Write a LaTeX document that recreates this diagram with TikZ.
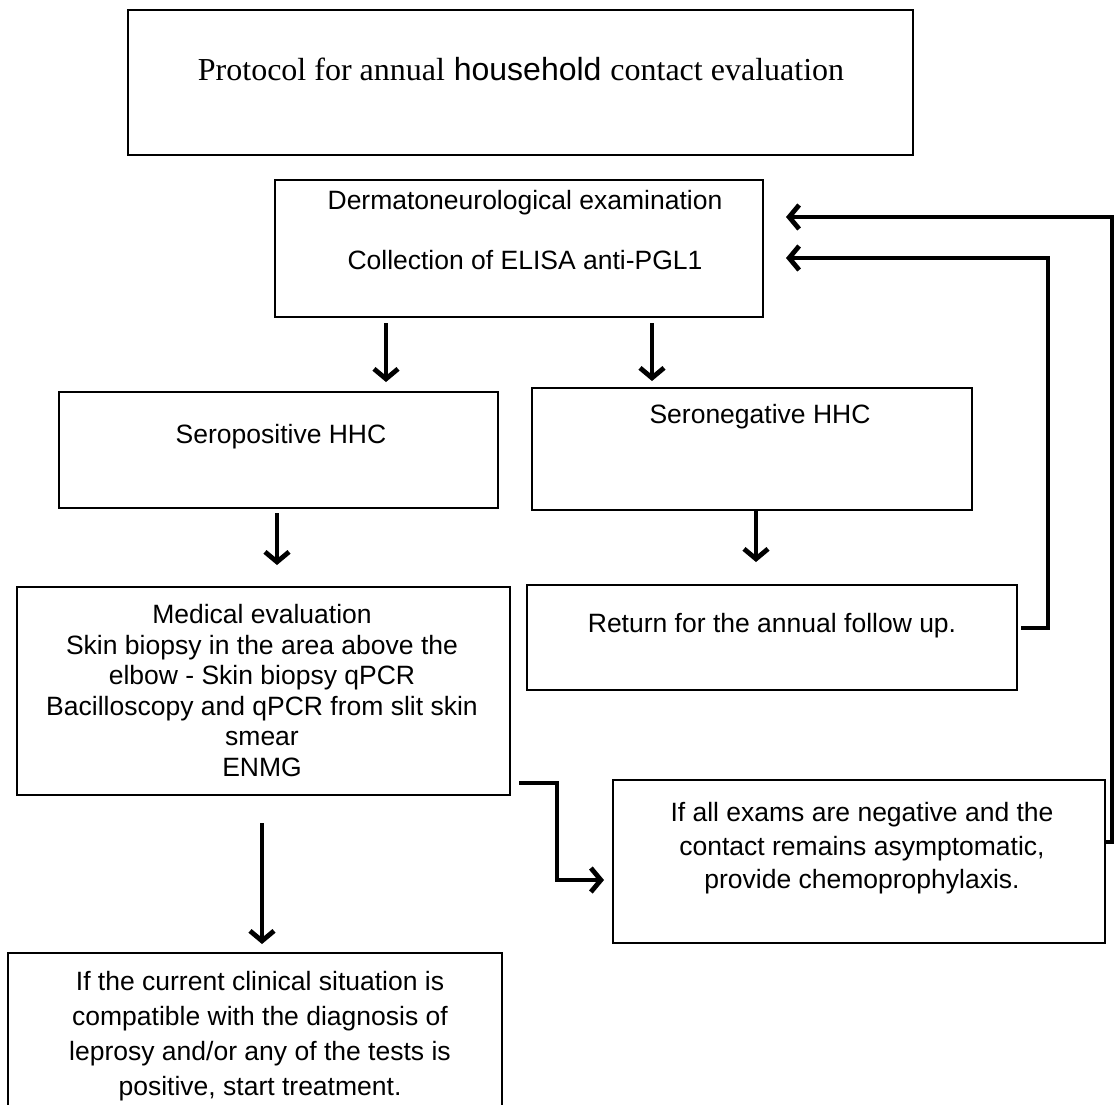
\documentclass[tikz,border=0pt]{standalone}
\usepackage{fontspec}
\setmainfont{Liberation Sans}
\newfontfamily\serifx{Liberation Serif}
\usetikzlibrary{arrows.meta}
\begin{document}
\begin{tikzpicture}[x=0.5pt,y=-0.5pt,
  box/.style={draw=black,line width=1pt,inner sep=0pt,fill=white},
  txt/.style={inner sep=0pt,font=\fontsize{13.25}{15.25}\selectfont,align=center},
  arr/.style={draw=black,line width=2.4pt,-{Straight Barb[length=5pt,width=12pt]}}
]
\useasboundingbox[fill=white] (0,0) rectangle (1117,1104);

% boxes
\node[box,line width=1.4pt,minimum width=392.5pt,minimum height=72.5pt] (title) at (520.5,82.5) {};
\node[box,minimum width=244pt,minimum height=68.5pt] (derm) at (519,248.5) {};
\node[box,minimum width=219.5pt,minimum height=58pt] (spos) at (278.5,450) {};
\node[box,minimum width=220pt,minimum height=61pt] (sneg) at (752,449) {};
\node[box,minimum width=246.5pt,minimum height=104pt] (med) at (263.5,691) {};
\node[box,minimum width=245pt,minimum height=52.5pt] (ret) at (772,637.5) {};
\node[box,minimum width=246pt,minimum height=81.5pt] (chemo) at (859,861.5) {};
\node[box,minimum width=247pt,minimum height=78.5pt] (final) at (255,1031.5) {};

% texts
\node[inner sep=0pt,anchor=base,font=\fontsize{16}{18}\selectfont] (ttitle) at (521,80)
  {{\serifx Protocol for annual} household {\serifx contact evaluation}};
\node[txt,anchor=north,font=\fontsize{13.25}{30}\selectfont] (tderm) at (525,190)
  {Dermatoneurological examination\\Collection of ELISA anti-PGL1};
\node[txt,anchor=base] (tspos) at (281,443) {Seropositive HHC};
\node[txt,anchor=base] (tsneg) at (760,423) {Seronegative HHC};
\node[txt,anchor=north] (tmed) at (262,604)
  {Medical evaluation\\Skin biopsy in the area above the\\elbow - Skin biopsy qPCR\\Bacilloscopy and qPCR from slit skin\\smear\\ENMG};
\node[txt,anchor=north] (tret) at (772,613) {Return for the annual follow up.};
\node[txt,anchor=north,font=\fontsize{13.25}{16.75}\selectfont] (tchemo) at (862,802)
  {If all exams are negative and the\\contact remains asymptomatic,\\provide chemoprophylaxis.};
\node[txt,anchor=north,font=\fontsize{13.25}{17.5}\selectfont] (tfinal) at (260,971)
  {If the current clinical situation is\\compatible with the diagnosis of\\leprosy and/or any of the tests is\\positive, start treatment.};

% connectors
\draw[arr,shorten <=2.5pt,shorten >=4.5pt] (386,0 |- derm.south) -- (386,0 |- spos.north);
\draw[arr,shorten <=2.5pt,shorten >=3pt] (652,0 |- derm.south) -- (652,0 |- sneg.north);
\draw[arr,shorten <=2pt,shorten >=10.5pt] (277,0 |- spos.south) -- (277,0 |- med.north);
\draw[arr,shorten <=0pt,shorten >=11pt] (756,0 |- sneg.south) -- (756,0 |- ret.north);
\draw[arr,shorten <=13.5pt,shorten >=4pt] (262,0 |- med.south) -- (262,0 |- final.north);
\draw[arr,shorten <=4pt,shorten >=4pt] (med.east |- 0,783) -| (557,880) -- (chemo.west |- 0,880);
\draw[arr,shorten <=1.5pt,shorten >=11pt] (ret.east |- 0,628) -| (1048,258) -- (derm.east |- 0,258);
\draw[arr,shorten >=11pt] (chemo.east |- 0,842) -| (1112,217) -- (derm.east |- 0,217);
\end{tikzpicture}
\end{document}
